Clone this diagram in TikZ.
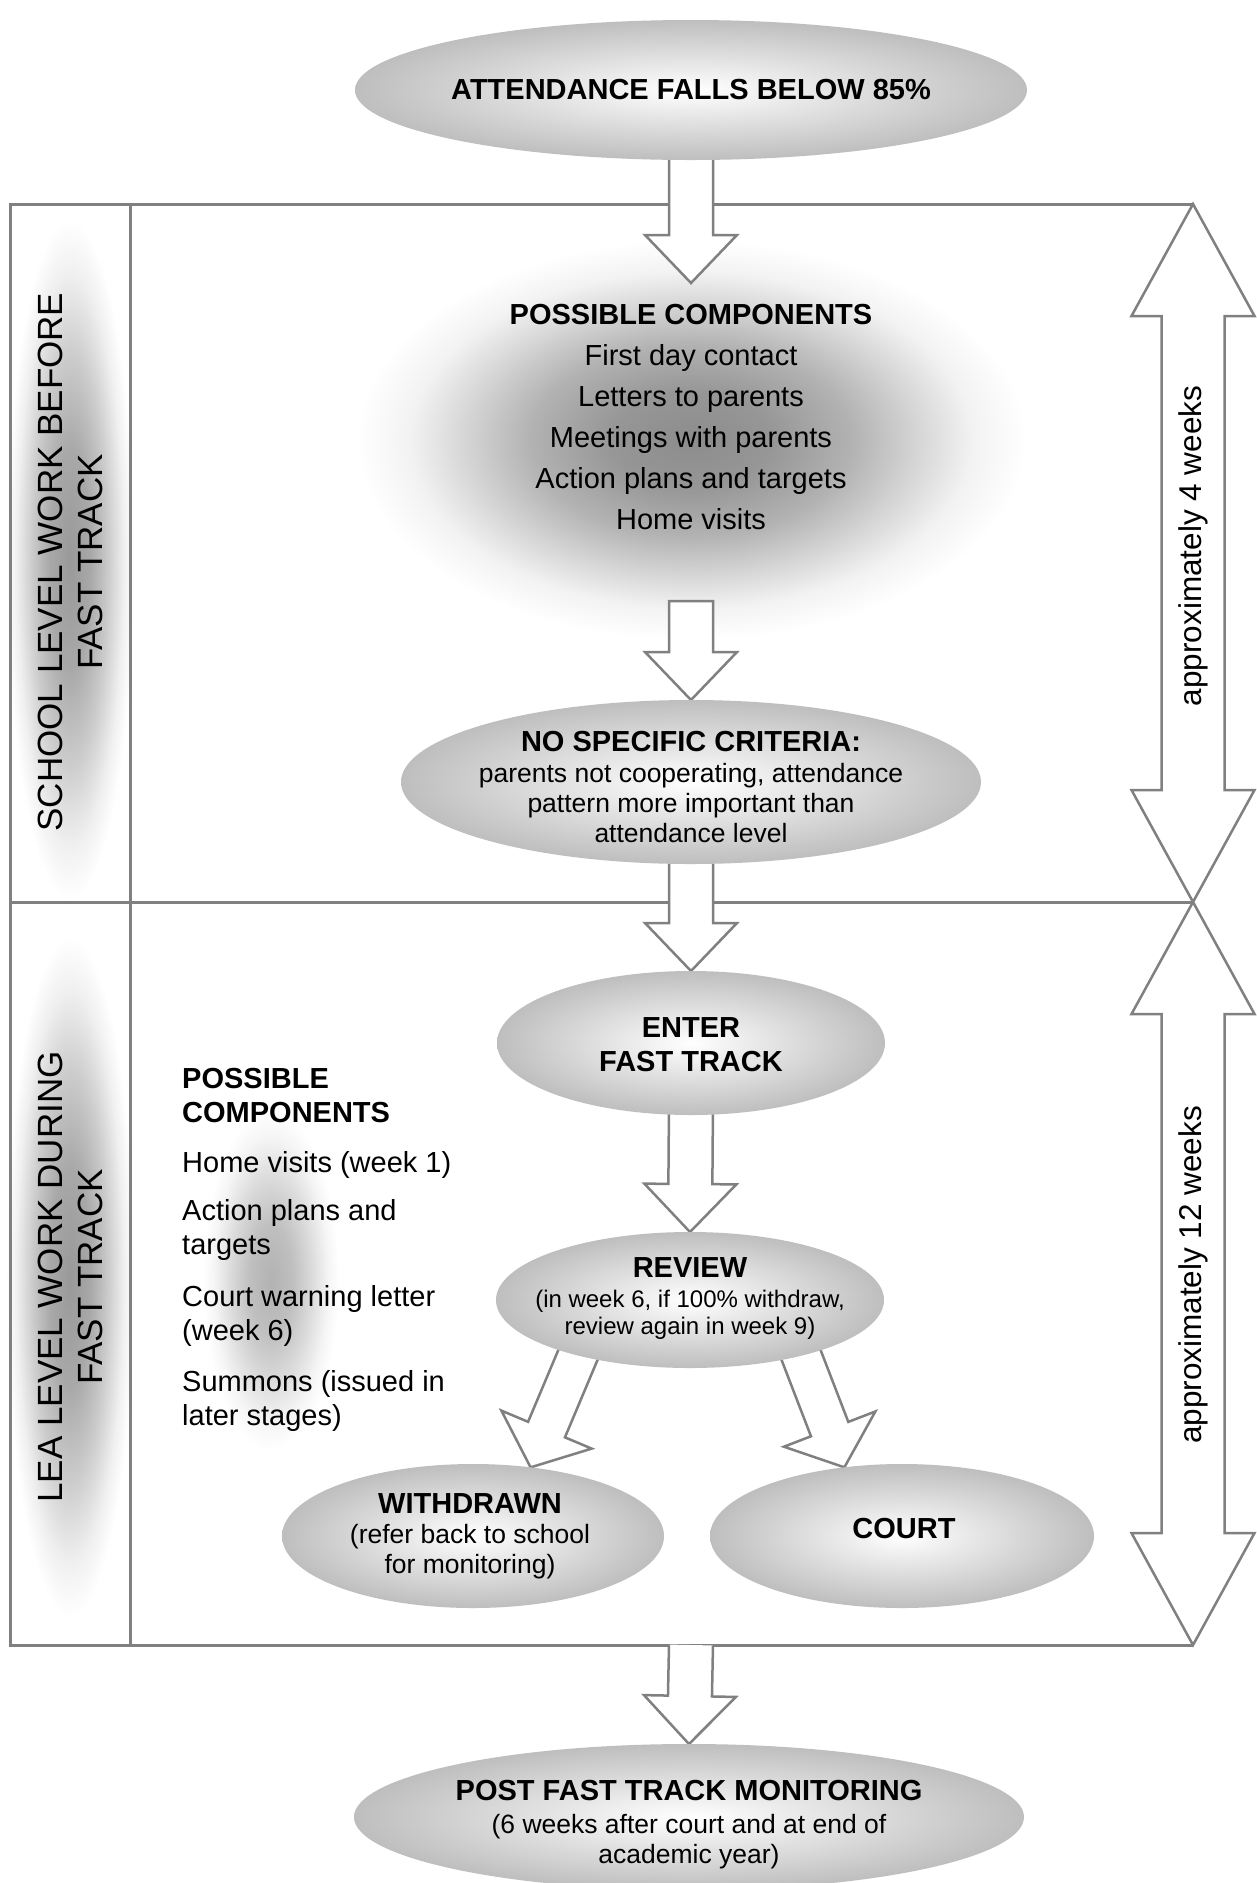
\documentclass[tikz,border=0pt]{standalone}
\usepackage{fontspec}
\setmainfont{Liberation Sans}
\usetikzlibrary{shapes.geometric,calc}
\pgfdeclarelayer{bg}
\pgfdeclarelayer{arr}
\pgfsetlayers{bg,arr,main}
\definecolor{lg}{HTML}{808080}
\definecolor{eg}{HTML}{BEBEBE}
\pgfdeclareradialshading{glow}{\pgfpoint{0bp}{0bp}}{color(0bp)=(black!45); color(6bp)=(black!41); color(12bp)=(black!30); color(17bp)=(black!16); color(21bp)=(black!5); color(25bp)=(white); color(50bp)=(white)}
\pgfdeclareradialshading{sideglow}{\pgfpoint{0bp}{0bp}}{color(0bp)=(black!40); color(8bp)=(black!34); color(15bp)=(black!20); color(21bp)=(black!6); color(25bp)=(white); color(50bp)=(white)}
\pgfdeclareradialshading{softglow}{\pgfpoint{0bp}{0bp}}{color(0bp)=(black!30); color(8bp)=(black!25); color(15bp)=(black!14); color(21bp)=(black!4); color(25bp)=(white); color(50bp)=(white)}
\newcommand{\blockarrow}[6][]{%
  \coordinate (hb) at ($(#3)!#6!(#2)$);
  \filldraw[blkarrow] ($(#2)!#4!90:(#3)$) -- ($(hb)!#4!-90:(#2)$) -- ($(hb)!#5!-90:(#2)$) -- (#3) -- ($(hb)!#5!90:(#2)$) -- ($(hb)!#4!90:(#2)$) -- ($(#2)!#4!-90:(#3)$) #1;}
\newcommand{\dblarrow}[2]{%
  \draw[blkarrow] (#1) -- ($(#1)+(61.5,112)$) -- ($(#1)+(31.5,112)$) -- ($(#2)+(31.5,-112)$) -- ($(#2)+(61.5,-112)$) -- (#2) -- ($(#2)+(-61.5,-112)$) -- ($(#2)+(-31.5,-112)$) -- ($(#1)+(-31.5,112)$) -- ($(#1)+(-61.5,112)$) -- cycle;}
\tikzset{
  ell/.style={ellipse, shade, inner color=white, outer color=eg, inner sep=0pt, outer sep=0pt},
  txt/.style={align=center, inner sep=0pt},
  blkarrow/.style={draw=lg, fill=white, line width=2.5pt, line join=miter},
  frame/.style={draw=lg, line width=3pt, line join=miter},
}
\newcommand{\bt}[1]{{\fontsize{29}{34}\selectfont\bfseries #1}}
\begin{document}
\begin{tikzpicture}[x=1pt,y=-1pt]
\useasboundingbox (0,0) rectangle (1257,1883);

% ellipse nodes
\node[ell, minimum width=672pt, minimum height=140pt] (top) at (691,90) {};
\node[txt, font=\fontsize{29}{34}\selectfont\bfseries] (toptxt) at (top.center) {ATTENDANCE FALLS BELOW 85\%};
\node[txt, font=\fontsize{29}{41}\selectfont] (comp) at (691,417) {\textbf{POSSIBLE COMPONENTS}\\First day contact\\Letters to parents\\Meetings with parents\\Action plans and targets\\Home visits};
\node[ell, minimum width=580pt, minimum height=164pt] (crit) at (691,782) {};
\node[txt, font=\fontsize{26.5}{30}\selectfont] (crittxt) at (691,787) {\bt{NO SPECIFIC CRITERIA:}\\[1pt]parents not cooperating, attendance\\pattern more important than\\attendance level};
\node[ell, minimum width=388pt, minimum height=144pt] (enter) at (691,1043) {};
\node[txt, font=\fontsize{29}{34}\selectfont\bfseries] (entertxt) at (691,1045) {ENTER\\FAST TRACK};
\node[ell, minimum width=388pt, minimum height=136pt] (review) at (690,1300) {};
\node[txt, font=\fontsize{24}{27}\selectfont] (reviewtxt) at (690,1298) {\bt{REVIEW}\\[3pt](in week 6, if 100\% withdraw,\\review again in week 9)};
\node[ell, minimum width=382pt, minimum height=144pt] (withdrawn) at (473,1536) {};
\node[txt, font=\fontsize{26.5}{30}\selectfont] (withdrawntxt) at (470,1536) {\bt{WITHDRAWN}\\(refer back to school\\for monitoring)};
\node[ell, minimum width=384pt, minimum height=144pt] (court) at (902,1536) {};
\node[txt, font=\fontsize{29}{34}\selectfont\bfseries] (courttxt) at (904,1528) {COURT};
\node[ell, minimum width=670pt, minimum height=146pt] (post) at (689,1817) {};
\node[txt, font=\fontsize{26.5}{30}\selectfont] (posttxt) at (689,1825) {\bt{POST FAST TRACK MONITORING}\\[3pt](6 weeks after court and at end of\\academic year)};

% side texts
\node[rotate=90, txt, font=\fontsize{35}{40}\selectfont] (side1) at (70,562) {SCHOOL LEVEL WORK BEFORE\\FAST TRACK};
\node[rotate=90, txt, font=\fontsize{35}{40}\selectfont] (side2) at (70,1277) {LEA LEVEL WORK DURING\\FAST TRACK};
\node[anchor=north west, align=left, inner sep=0pt, font=\fontsize{29}{34}\selectfont] (lealist) at (182,1068) {\textbf{POSSIBLE}\\\textbf{COMPONENTS}\\[16pt]Home visits (week 1)\\[14pt]Action plans and\\targets\\[18pt]Court warning letter\\(week 6)\\[17pt]Summons (issued in\\later stages)};

% connector end points
\coordinate (c1) at (691,283);
\coordinate (c2) at (691,601);
\coordinate (c5) at (691,1645);
\coordinate (dl) at (589.5,1327.5);
\coordinate (dr) at (790.5,1327.5);
\coordinate (u1) at (1193,204);
\coordinate (u2) at (1193,902);
\coordinate (u3) at (1193,1645);

\node[rotate=90, inner sep=0pt, font=\fontsize{31.5}{36}\selectfont] (w4) at (1193,546) {approximately 4 weeks};
\node[rotate=90, inner sep=0pt, font=\fontsize{31.5}{36}\selectfont] (w12) at (1193,1275) {approximately 12 weeks};

\begin{pgfonlayer}{bg}
  \fill[white] (0,0) rectangle (1257,1883);
  \shade[shading=sideglow] (70,560) ellipse [x radius=64pt, y radius=340pt];
  \shade[shading=sideglow] (70,1277) ellipse [x radius=64pt, y radius=340pt];
  \shade[shading=glow] (691,440) ellipse [x radius=335pt, y radius=200pt];
  \shade[shading=softglow] (271,1280) ellipse [x radius=68pt, y radius=170pt];
  \draw[frame] (1193,204) -- (10,204) -- (10,1645) -- (1193,1645);
  \draw[frame] (10,902) -- (1193,902);
  \draw[frame] (130,204) -- (130,1645);
\end{pgfonlayer}

\begin{pgfonlayer}{arr}
  \blockarrow{$(top.south)+(0,-12)$}{c1}{22pt}{46pt}{48pt}
  \blockarrow[-- cycle]{c2}{crit.north}{22pt}{46pt}{48pt}
  \blockarrow{$(crit.south)+(0,-12)$}{enter.north}{22pt}{46pt}{48pt}
  \blockarrow{$(enter.south)+(0,-12)$}{review.north}{22pt}{46pt}{48pt}
  \blockarrow{dl}{withdrawn.50}{20pt}{49pt}{41pt}
  \blockarrow{dr}{court.130}{20pt}{49pt}{41pt}
  \blockarrow{c5}{post.north}{22pt}{46pt}{48pt}
  \dblarrow{u1}{u2}
  \dblarrow{u2}{u3}
\end{pgfonlayer}
\end{tikzpicture}
\end{document}
